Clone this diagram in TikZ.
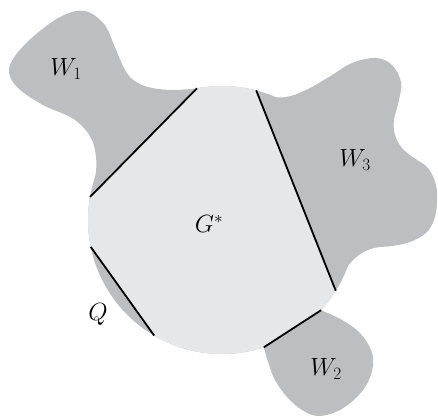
\documentclass[tikz,border=0pt]{standalone}
\usetikzlibrary{calc}
\definecolor{wdark}{RGB}{189,190,194}
\definecolor{glight}{RGB}{230,231,233}
\begin{document}
\begin{tikzpicture}[x=1pt,y=-1pt,
  blob/.style={fill=wdark},
  core/.style={fill=glight},
  cut/.style={line width=1.8pt,black},
  lbl/.style={font=\fontsize{25}{30}\selectfont,inner sep=0pt}]
\useasboundingbox (0,0) rectangle (438,417);
\coordinate (c) at (222,220);
\coordinate (a1) at ([shift={(222,220)}]189.9:134);
\coordinate (b1) at ([shift={(222,220)}]259.2:134);
\coordinate (s3) at ([shift={(222,220)}]284.8:134);
\coordinate (e3) at ([shift={(222,220)}]31.9:134);
\coordinate (s2) at ([shift={(222,220)}]42.3:134);
\coordinate (e2) at ([shift={(222,220)}]71.8:134);
\coordinate (sq) at ([shift={(222,220)}]120.4:134);
\coordinate (eq) at ([shift={(222,220)}]168.4:134);
% W1 blob
\fill[blob] plot[smooth,tension=0.6] coordinates {(b1) (172,90) (148,87) (132,79) (123,66) (114,45) (104,24) (85,11) (62,16) (35,35) (15,56) (9,72) (18,88) (43,105) (72,118) (88,133) (95,150) (96,172) (a1)} -- cycle;
% W3 blob
\fill[blob] plot[smooth,tension=0.6] coordinates {(s3) (264,96) (286,97) (306,90) (329,77) (352,63) (376,58) (392,65) (401,82) (399,100) (394,120) (395,135) (402,148) (414,158) (428,168) (436,185) (437,203) (434,220) (426,233) (410,242) (392,246) (374,248) (359,255) (346,268) (339,282) (e3)} -- cycle;
% W2 blob
\fill[blob] plot[smooth,tension=0.6] coordinates {(s2) (342,320) (360,333) (371,350) (373,365) (368,382) (356,398) (338,411) (318,416) (302,410) (287,397) (275,380) (268,362) (e2)} -- cycle;
% circle and G* region
\fill[blob] (c) circle[radius=134];
\fill[core] (a1) -- (b1) arc[start angle=259.2,end angle=284.8,radius=134] -- (e3) arc[start angle=31.9,end angle=42.3,radius=134] -- (e2) arc[start angle=71.8,end angle=120.4,radius=134] -- (eq) arc[start angle=168.4,end angle=189.9,radius=134] -- cycle;
% cuts
\draw[cut] (a1) -- (b1);
\draw[cut] (s3) -- (e3);
\draw[cut] (s2) -- (e2);
\draw[cut] (sq) -- (eq);
% labels
\node[lbl] (lw1) at (66,69) {$W_1$};
\node[lbl] (lw3) at (355,160) {$W_3$};
\node[lbl] (lw2) at (326,369) {$W_2$};
\node[lbl] (lg) at (209,224) {$G^*$};
\node[lbl] (lq) at (98,314) {$Q$};
\end{tikzpicture}
\end{document}
